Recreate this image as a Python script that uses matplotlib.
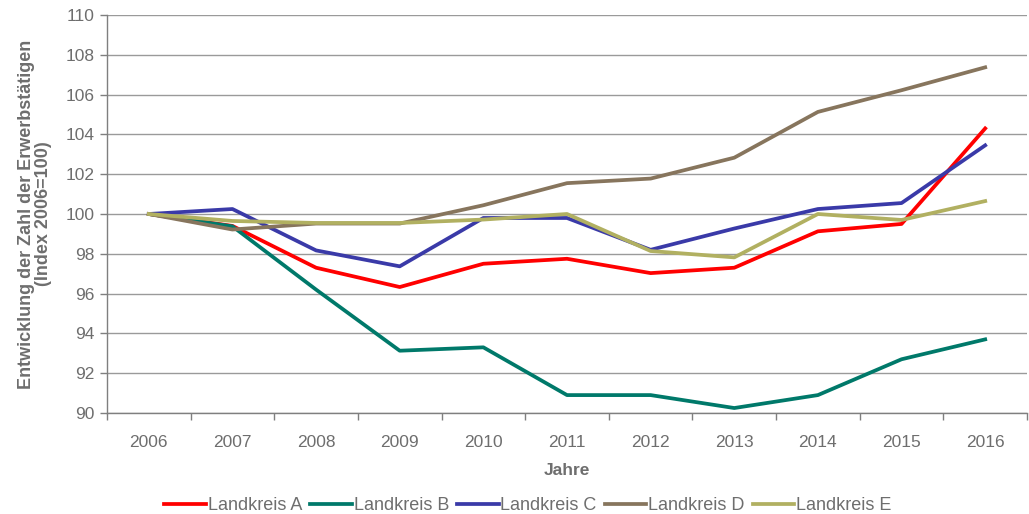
import matplotlib.pyplot as plt

plt.rcParams['font.family'] = ['Liberation Sans', 'DejaVu Sans']

jahre = [2006, 2007, 2008, 2009, 2010, 2011, 2012, 2013, 2014, 2015, 2016]
kreis_a = [100, 99.4, 97.3, 96.33, 97.5, 97.75, 97.03, 97.3, 99.13, 99.5, 104.3]
kreis_b = [100, 99.38, 96.2, 93.13, 93.3, 90.9, 90.9, 90.25, 90.9, 92.7, 93.7]
kreis_c = [100, 100.25, 98.17, 97.37, 99.8, 99.8, 98.2, 99.27, 100.25, 100.55, 103.45]
kreis_d = [100, 99.22, 99.52, 99.52, 100.44, 101.55, 101.78, 102.83, 105.13, 106.22, 107.37]
kreis_e = [100, 99.65, 99.55, 99.55, 99.72, 100.0, 98.14, 97.82, 100.0, 99.7, 100.65]

reihen = [
    ("Landkreis A", kreis_a, '#FF0000'),
    ("Landkreis B", kreis_b, '#00796A'),
    ("Landkreis C", kreis_c, '#3A3AA8'),
    ("Landkreis D", kreis_d, '#87755D'),
    ("Landkreis E", kreis_e, '#B1B061'),
]

grau = '#7F7F7F'
text_grau = '#6E6E6E'

fig = plt.figure(figsize=(10.29, 5.14), dpi=100)
ax = fig.add_axes([107 / 1029, 1 - 413 / 514, 920 / 1029, 398 / 514])

x = list(range(len(jahre)))
for name, werte, farbe in reihen:
    ax.plot(x, werte, color=farbe, linewidth=2.7, label=name)

ax.set_xlim(-0.5, len(jahre) - 0.5)
ax.set_ylim(90, 110)
ax.set_yticks(range(90, 111, 2))
ax.set_xticks(x)
ax.set_xticklabels([str(j) for j in jahre])
ax.set_xticks([i - 0.5 for i in range(len(jahre) + 1)], minor=True)
ax.tick_params(axis='x', which='major', length=0, pad=16, labelsize=12.5, labelcolor=text_grau)
ax.tick_params(axis='x', which='minor', length=5, color=grau, width=1)
ax.tick_params(axis='y', length=5, color=grau, width=1, labelsize=12.5, labelcolor=text_grau, pad=4)

ax.yaxis.grid(True, color='#9A9A9A', linewidth=1)
ax.set_axisbelow(True)
for s in ['top', 'right']:
    ax.spines[s].set_visible(False)
for s in ['left', 'bottom']:
    ax.spines[s].set_color(grau)
    ax.spines[s].set_linewidth(1)

ax.set_xlabel("Jahre", fontsize=12.5, fontweight='bold', color=text_grau, labelpad=9)
ax.set_ylabel("Entwicklung der Zahl der Erwerbstätigen\n(Index 2006=100)", fontsize=13,
              fontweight='bold', color=text_grau, labelpad=10, linespacing=1.0)

leg = fig.legend(loc='lower center', bbox_to_anchor=(0.513, -0.032), ncol=5, frameon=False,
                 fontsize=13, handlelength=2.3, handletextpad=0.1, columnspacing=0.45)
for t in leg.get_texts():
    t.set_color(text_grau)

fig.savefig('out.png', dpi=100)
